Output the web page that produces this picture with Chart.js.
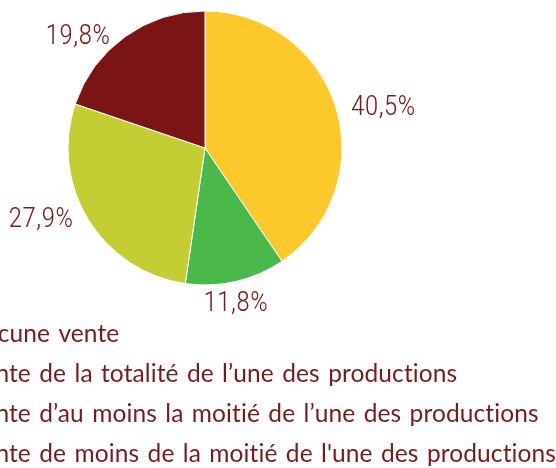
<!DOCTYPE html>
<html>
<head>
<meta charset="utf-8">
<script src="https://cdn.jsdelivr.net/npm/chart.js@4.4.1/dist/chart.umd.min.js"></script>
<style>
  html, body { margin: 0; padding: 0; background: #fff; overflow: hidden; width: 556px; height: 468px; }
  #wrap { position: relative; width: 556px; height: 468px; overflow: hidden; }
  #pie { position: absolute; left: -150px; top: -10px; }
</style>
</head>
<body>
<div id="wrap"><canvas id="pie" width="710" height="486"></canvas></div>
<script>
var categories = [
  "Aucune vente",
  "Vente de la totalité de l\u2019une des productions",
  "Vente d\u2019au moins la moitié de l\u2019une des productions",
  "Vente de moins de la moitié de l'une des productions"
];
var values = [40.5, 11.8, 27.9, 19.8];
var colors = ["#fcc82b", "#4ab84b", "#c5cd35", "#7b1417"];

var textColor = "#7b1a1e";
var labelFont = "300 28px 'Roboto Condensed', 'DejaVu Sans Condensed', sans-serif";
var legendFamily = "Lato, 'DejaVu Sans', sans-serif";
var legendSize = 24.5;

function fmt(v) {
  return v.toFixed(1).replace('.', ',') + '%';
}

// the legend starts left of the visible page: first two letters are cut off
var m = document.createElement('canvas').getContext('2d');
m.font = legendSize + "px " + legendFamily;
var cutWidth = m.measureText("Au").width;
var canvasLeft = 150;
var legendBox = canvasLeft - cutWidth - 18 - legendSize / 2;

// wider word spacing like the original, no ligatures
var spacing = {
  id: 'spacing',
  beforeUpdate: function(chart) {
    chart.ctx.letterSpacing = '0.1px';
    chart.ctx.wordSpacing = '2px';
  }
};

// percent labels outside each slice
var outsideLabels = {
  id: 'outsideLabels',
  afterDatasetsDraw: function(chart) {
    var ctx = chart.ctx;
    var meta = chart.getDatasetMeta(0);
    ctx.save();
    ctx.fillStyle = textColor;
    ctx.font = labelFont;
    meta.data.forEach(function(arc, i) {
      var p = arc.getProps(['x', 'y', 'startAngle', 'endAngle', 'outerRadius'], true);
      var a = (p.startAngle + p.endAngle) / 2;
      var c = Math.cos(a), s = Math.sin(a);
      var px = p.x + p.outerRadius * c;
      var py = p.y + p.outerRadius * s;
      if (Math.abs(c) > 0.5) {
        ctx.textAlign = c > 0 ? 'left' : 'right';
        ctx.textBaseline = 'middle';
        ctx.fillText(fmt(values[i]), px + (c > 0 ? 15 : -15), py);
      } else {
        ctx.textAlign = 'center';
        ctx.textBaseline = s > 0 ? 'top' : 'bottom';
        ctx.fillText(fmt(values[i]), px, py + (s > 0 ? 8 : -8));
      }
    });
    ctx.restore();
  }
};

new Chart(document.getElementById('pie'), {
  type: 'pie',
  data: {
    labels: categories,
    datasets: [{
      data: values,
      backgroundColor: colors,
      borderColor: '#ffffff',
      borderWidth: 1,
      radius: 137,
      hoverOffset: 0
    }]
  },
  options: {
    responsive: false,
    animation: false,
    layout: { padding: 0 },
    plugins: {
      tooltip: { enabled: false },
      legend: {
        position: 'bottom',
        align: 'start',
        labels: {
          color: textColor,
          font: { family: legendFamily, size: legendSize },
          boxWidth: legendBox,
          boxHeight: 20,
          padding: 40 - legendSize
        }
      }
    }
  },
  plugins: [spacing, outsideLabels]
});
</script>
</body>
</html>
